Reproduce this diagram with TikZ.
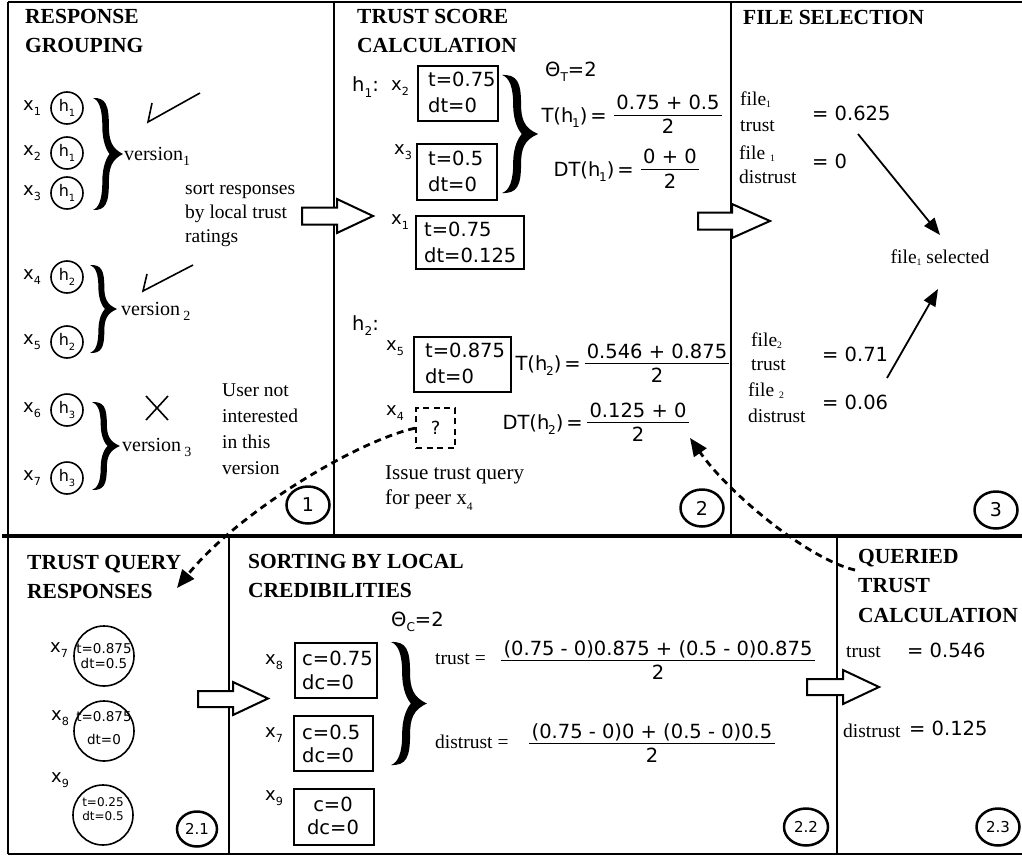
\documentclass[tikz,border=0pt]{standalone}
\usepackage{fontspec}
\usepackage{graphicx}
\setmainfont{Liberation Serif}
\newfontfamily\dv{DejaVu Sans}
\usetikzlibrary{arrows.meta,shapes.geometric}
\newcommand\ssub[2][0.62]{\raisebox{-0.28em}{\scalebox{#1}{#2}}}
\newcommand\fsub[1]{\raisebox{-0.1em}{\scalebox{0.5}{#1}}}
\newcommand\hsub[1]{h\kern-0.06em\ssub{#1}}
\newcommand\frc[5]{%
  \node[num] (#1n) at (#2,#3-12) {#4};
  \draw[line width=1.3pt] ([yshift=-5pt]#1n.south west) -- ([yshift=-5pt]#1n.south east);
  \node[sns, text height=14pt, text depth=0pt] (#1d) at (#2,#3+12) {#5};}
% filled curly brace: #1 left x, #2 top y, #3 bottom y, #4 width
\newcommand\fbrace[4]{%
  \pgfmathsetmacro\bx{#1}\pgfmathsetmacro\bw{#4}%
  \pgfmathsetmacro\bt{#2}\pgfmathsetmacro\bb{#3}%
  \pgfmathsetmacro\bh{(#3-#2)/2}\pgfmathsetmacro\bm{(#2+#3)/2}%
  \pgfmathsetmacro\bc{#1+0.42*#4}\pgfmathsetmacro\bk{0.11*#4}%
  \fill (\bx,\bt) .. controls (\bc,\bt-0.01*\bh) and (\bc+\bk,\bt+0.12*\bh) .. (\bc+\bk,\bt+0.5*\bh)
    .. controls (\bc+\bk,\bm-0.25*\bh) and (\bc+1.8*\bk,\bm-0.1*\bh) .. (\bx+\bw,\bm)
    .. controls (\bc+1.8*\bk,\bm+0.1*\bh) and (\bc+\bk,\bm+0.25*\bh) .. (\bc+\bk,\bm+0.5*\bh)
    .. controls (\bc+\bk,\bb-0.12*\bh) and (\bc,\bb+0.01*\bh) .. (\bx,\bb)
    .. controls (\bc-2*\bk,\bb-0.04*\bh) and (\bc-\bk,\bb-0.2*\bh) .. (\bc-\bk,\bm+0.5*\bh)
    .. controls (\bc-\bk,\bm+0.2*\bh) and (\bc+0.5*\bk,\bm+0.05*\bh) .. (\bc+1.2*\bk,\bm)
    .. controls (\bc+0.5*\bk,\bm-0.05*\bh) and (\bc-\bk,\bm-0.2*\bh) .. (\bc-\bk,\bt+0.5*\bh)
    .. controls (\bc-\bk,\bt+0.2*\bh) and (\bc-2*\bk,\bt+0.04*\bh) .. cycle;}
\tikzset{
  frame/.style={line width=2pt},
  ttl/.style={font=\fontsize{21.5}{29.5}\selectfont\bfseries, anchor=north west, inner sep=0pt, align=left, execute at begin node={\rule{0pt}{15pt}}},
  txt/.style={font=\fontsize{19.5}{24}\selectfont, anchor=north west, inner sep=0pt, align=left, execute at begin node={\rule{0pt}{15pt}}},
  srf/.style={font=\fontsize{19.5}{24}\selectfont, inner sep=0pt},
  sns/.style={font=\dv\fontsize{19.5}{26}\selectfont, inner sep=0pt},
  xlab/.style={font=\dv\fontsize{18}{20}\selectfont, inner sep=0pt},
  hcirc/.style={circle, draw, line width=1.6pt, minimum size=32pt, inner sep=0pt, font=\dv\fontsize{16}{18}\selectfont},
  valbox/.style={draw, line width=1.8pt, anchor=north west, inner sep=0pt},
  num/.style={sns, inner xsep=2pt, text height=14pt, text depth=0pt},
  stepc/.style={ellipse, draw, line width=2.5pt, minimum width=43pt, minimum height=37pt, inner sep=0pt, font=\dv\fontsize{19}{20}\selectfont},
  stepcs/.style={stepc, font=\dv\fontsize{15}{16}\selectfont},
  barrow/.style={draw, fill=white, line width=2pt, line join=miter},
  dasharrow/.style={line width=2.8pt, dash pattern=on 7pt off 5pt, -{Triangle[length=18pt,width=15pt]}},
  solidarrow/.style={line width=1.8pt, -{Triangle[length=17pt,width=13pt]}},
  rcirc/.style={circle, draw, line width=1.6pt, minimum size=60pt, inner sep=0pt},
  tickline/.style={line width=1.6pt}
}
\begin{document}
\begin{tikzpicture}[x=1pt,y=-1pt]
\useasboundingbox (0,0) rectangle (1022,856);
\fill[white] (0,0) rectangle (1022,856);
% frame
\draw[frame] (8,2) -- (1022,2);
\draw[frame] (8,2) -- (8,854);
\draw[frame] (8,854) -- (1022,854);
\draw[line width=3.5pt] (2,536) -- (1022,536);
\draw[frame] (334,2) -- (334,536);
\draw[frame] (731,2) -- (731,536);
\draw[frame] (229,536) -- (229,854);
\draw[frame] (837,536) -- (837,854);

% ===== Panel 1 =====
\node[ttl] (t1) at (25,9) {RESPONSE\\GROUPING};
\node[xlab] (lx1) at (32,108) {x\ssub{1}};
\node[xlab] (lx2) at (32,153) {x\ssub{2}};
\node[xlab] (lx3) at (32,193) {x\ssub{3}};
\node[xlab] (lx4) at (32,277) {x\ssub{4}};
\node[xlab] (lx5) at (32,342) {x\ssub{5}};
\node[xlab] (lx6) at (32,410) {x\ssub{6}};
\node[xlab] (lx7) at (32,478) {x\ssub{7}};
\node[hcirc] (h1a) at (67,108) {h\ssub{1}};
\node[hcirc] (h1b) at (67,153) {h\ssub{1}};
\node[hcirc] (h1c) at (67,193) {h\ssub{1}};
\node[hcirc] (h2a) at (67,277) {h\ssub{2}};
\node[hcirc] (h2b) at (67,342) {h\ssub{2}};
\node[hcirc] (h3a) at (67,410) {h\ssub{3}};
\node[hcirc] (h3b) at (67,478) {h\ssub{3}};
\fbrace{93}{98}{210}{30}
\fbrace{90}{265}{353}{27}
\fbrace{92}{402}{490}{28}
\node[font=\fontsize{20}{24}\selectfont, inner sep=0pt, anchor=base west] (v1) at (124,160) {version\ssub[0.7]{1}};
\node[font=\fontsize{20}{24}\selectfont, inner sep=0pt, anchor=base west] (v2) at (121,315) {version\,\ssub[0.7]{2}};
\node[font=\fontsize{20}{24}\selectfont, inner sep=0pt, anchor=base west] (v3) at (122,451) {version\,\ssub[0.7]{3}};
\draw[tickline] (152,103) -- (148,122) -- (200,93);
\draw[tickline] (147,274) -- (143,291) -- (193,265);
\draw[tickline] (146,396) -- (168,420);
\draw[tickline] (146,420) -- (168,396);
\node[txt] (sortt) at (185,183.5) {sort responses\\by local trust\\ratings};
\node[txt, font=\fontsize{19.5}{26}\selectfont] (usert) at (222,383.5) {User not\\interested\\in this\\version};
\node[stepc] (c1) at (308,505) {1};

% ===== Panel 2 =====
\node[ttl] (t2) at (357,9) {TRUST SCORE\\CALCULATION};
\node[sns, anchor=base west] (h1l) at (352,92) {h\ssub{1}:};
\node[xlab] (px2) at (400,88) {x\ssub{2}};
\node[xlab] (px3) at (403,152) {x\ssub{3}};
\node[xlab] (px1) at (400,222) {x\ssub{1}};
\node[valbox, minimum width=80pt, minimum height=55pt] (bx2) at (417,65) {};
\node[sns, anchor=west, align=left] (tx2) at (428,92.5) {t=0.75\\dt=0};
\node[valbox, minimum width=80pt, minimum height=56pt] (bx3) at (416,143) {};
\node[sns, anchor=west, align=left] (tx3) at (428,171) {t=0.5\\dt=0};
\node[valbox, minimum width=108pt, minimum height=53pt] (bx1) at (415,215) {};
\node[sns, anchor=west, align=left] (tx1) at (424,242) {t=0.75\\dt=0.125};
\fbrace{502}{75}{193}{36}
\node[sns, anchor=west] (thT) at (545,72) {Θ\ssub{T}=2};
\node[sns, anchor=base east] (lth1) at (607,122) {T(\hsub{1})\kern0.15em=};
\frc{th1}{668}{115}{0.75 + 0.5}{2}
\node[sns, anchor=base east] (ldth1) at (634,176) {DT(\hsub{1})\kern0.15em=};
\frc{dth1}{670}{169}{0 + 0}{2}
\node[sns, anchor=base west] (h2l) at (352,330) {h\ssub{2}:};
\node[xlab] (px5) at (395,348) {x\ssub{5}};
\node[xlab] (px4) at (395,413) {x\ssub{4}};
\node[valbox, minimum width=97pt, minimum height=55pt] (bx5) at (413,336) {};
\node[sns, anchor=west, align=left] (tx5) at (425,363.5) {t=0.875\\dt=0};
\node[sns, anchor=base east] (lth2) at (581,370) {T(\hsub{2})\kern0.15em=};
\frc{th2}{657}{363}{0.546 + 0.875}{2}
\node[valbox, dash pattern=on 6pt off 4.5pt, line width=2.4pt, minimum width=39pt, minimum height=40pt, font=\dv\fontsize{18}{18}\selectfont, text depth=-3pt] (q) at (415,407) {?};
\node[sns, anchor=base east] (ldth2) at (583,429) {DT(\hsub{2})\kern0.15em=};
\frc{dth2}{638}{422}{0.125 + 0}{2}
\node[txt, font=\fontsize{21}{25}\selectfont] (issue) at (385,465.5) {Issue trust query\\for peer x\ssub[0.55]{4}};
\node[stepc] (c2) at (702,508) {2};

% ===== Panel 3 =====
\node[ttl] (t3) at (743,9) {FILE SELECTION};
\node[txt, font=\fontsize{19.5}{26}\selectfont] (f1t) at (740,91.5) {file\fsub{1}\\trust};
\node[txt] (f1d) at (739,145.5) {file \fsub{1}\\distrust};
\node[sns, anchor=west] (v625) at (812,113) {= 0.625};
\node[sns, anchor=west] (v0) at (812,161) {= 0};
\node[srf, anchor=base] (sel) at (940,263.5) {file\fsub{1} selected};
\node[txt] (f2t) at (751,332.5) {file\fsub{2}\\trust};
\node[txt, font=\fontsize{19.5}{26}\selectfont] (f2d) at (748,382.5) {file \fsub{2}\\distrust};
\node[sns, anchor=west] (v071) at (822,354) {= 0.71};
\node[sns, anchor=west] (v006) at (822,402) {= 0.06};
\coordinate (a1s) at (858,134);
\coordinate (a1e) at (940,235);
\coordinate (a2s) at (887,378);
\coordinate (a2e) at (938,289);
\draw[solidarrow] (a1s) -- (a1e);
\draw[solidarrow] (a2s) -- (a2e);
\node[stepc] (c3) at (996,510) {3};

% ===== Panel 2.1 =====
\node[ttl] (t21) at (27,555) {TRUST QUERY\\RESPONSES};
\node[xlab] (qx7) at (59,650) {x\ssub{7}};
\node[xlab] (qx8) at (60,718) {x\ssub{8}};
\node[xlab] (qx9) at (60,780) {x\ssub{9}};
\node[rcirc] (r7) at (104,656) {};
\node[font=\dv\fontsize{13.5}{15}\selectfont, align=center, inner sep=0pt] (r7t) at (104,656) {t=0.875\\dt=0.5};
\node[rcirc] (r8) at (104,731) {};
\node[font=\dv\fontsize{13.5}{23}\selectfont, align=center, inner sep=0pt] (r8t) at (104,728) {t=0.875\\dt=0};
\node[rcirc] (r9) at (103,815) {};
\node[font=\dv\fontsize{12}{13.5}\selectfont, align=center, inner sep=0pt] (r9t) at (103,809) {t=0.25\\dt=0.5};
\node[stepcs, minimum width=40pt, minimum height=35pt] (c21) at (197,829) {2.1};

% ===== Panel 2.2 =====
\node[ttl] (t22) at (248,554) {SORTING BY LOCAL\\CREDIBILITIES};
\node[sns, anchor=west] (thC) at (391,622) {Θ\ssub{C}=2};
\node[xlab] (sx8) at (274,662) {x\ssub{8}};
\node[xlab] (sx7) at (274,735) {x\ssub{7}};
\node[xlab] (sx9) at (274,798) {x\ssub{9}};
\node[valbox, minimum width=82pt, minimum height=55pt] (bc8) at (294,642) {};
\node[sns, anchor=west, align=left, font=\dv\fontsize{19.5}{24}\selectfont] (tc8) at (302,670) {c=0.75\\dc=0};
\node[valbox, minimum width=79pt, minimum height=55pt] (bc7) at (293,715) {};
\node[sns, anchor=west, align=left, font=\dv\fontsize{19.5}{23}\selectfont] (tc7) at (302,743.5) {c=0.5\\dc=0};
\node[valbox, minimum width=80pt, minimum height=56pt] (bc9) at (293,788) {};
\node[sns, align=center, font=\dv\fontsize{19.5}{23}\selectfont] (tc9) at (333,816) {c=0\\dc=0};
\fbrace{391}{642}{765}{36}
\node[srf, anchor=base west] (ltr) at (435,664) {trust =};
\frc{ctr}{658}{660}{(0.75 - 0)0.875 + (0.5 - 0)0.875}{2}
\node[srf, anchor=base west] (ldt) at (435,748) {distrust =};
\frc{cdt}{652}{743}{(0.75 - 0)0 + (0.5 - 0)0.5}{2}
\node[stepcs, minimum width=44pt, minimum height=37pt] (c22) at (806,827) {2.2};

% ===== Panel 2.3 =====
\node[ttl] (t23) at (858,549) {QUERIED\\TRUST\\CALCULATION};
\node[srf, anchor=base west] (qtr) at (846,657) {trust};
\node[sns, anchor=west] (v546) at (907,650) {= 0.546};
\node[srf, anchor=base west] (qdt) at (843,737) {distrust};
\node[sns, anchor=west] (v125) at (909,728) {= 0.125};
\node[stepcs, minimum width=43pt, minimum height=37pt] (c23) at (998,827) {2.3};

% ===== block arrows =====
\draw[barrow] (302,207.5) -- (337,207.5) -- (337,199) -- (373,216) -- (337,233) -- (337,224.5) -- (302,224.5) -- cycle;
\draw[barrow] (698,212.5) -- (732,212.5) -- (732,204) -- (770,221) -- (732,238) -- (732,229.5) -- (698,229.5) -- cycle;
\draw[barrow] (198,691) -- (233,691) -- (233,682) -- (268,698.5) -- (233,715) -- (233,707) -- (198,707) -- cycle;
\draw[barrow] (807,679) -- (843,679) -- (843,670) -- (879,687) -- (843,704) -- (843,695) -- (807,695) -- cycle;

% ===== dashed arrows =====
\coordinate (tq) at (177,588);
\coordinate (qs) at (855,570);
\coordinate (dte) at (690,438);
\draw[dasharrow] (q.west) .. controls (360,440) and (240,510) .. (tq);
\draw[dasharrow] (qs) .. controls (810,560) and (730,495) .. (dte);
\end{tikzpicture}
\end{document}
